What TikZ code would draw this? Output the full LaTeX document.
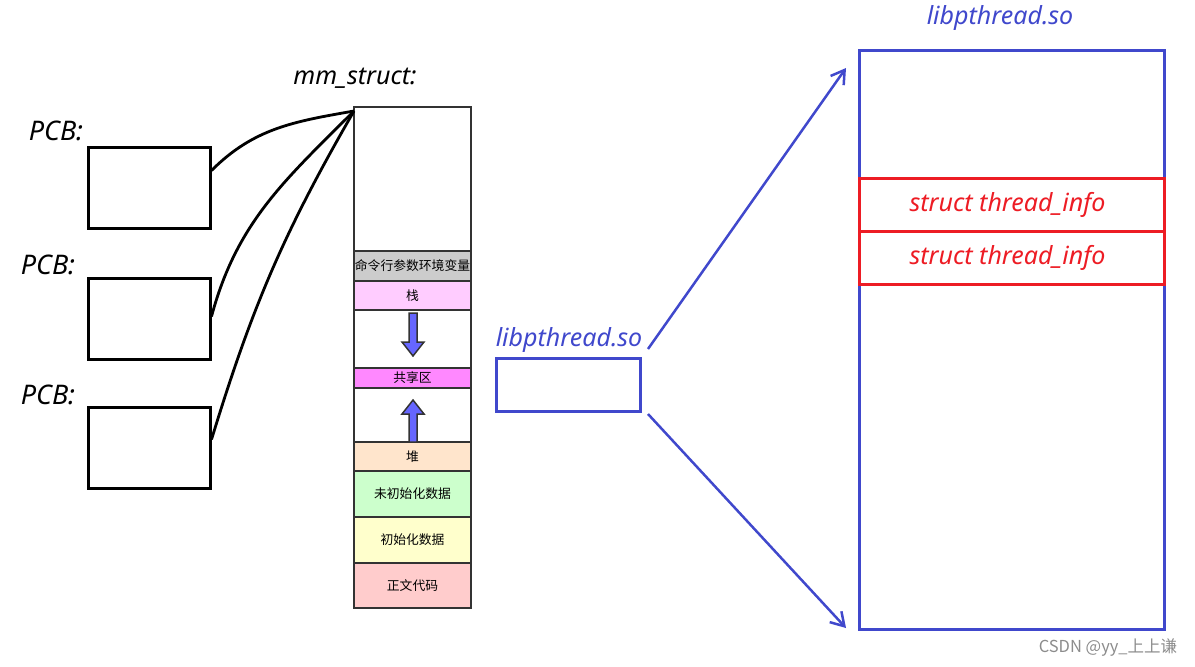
\documentclass[tikz,border=0pt]{standalone}
\usepackage{fontspec}
\setmainfont{Noto Sans}
\newfontfamily\cjk{Noto Sans CJK SC}
\usetikzlibrary{positioning,arrows.meta}

\definecolor{libblue}{RGB}{64,72,204}
\definecolor{infored}{RGB}{237,28,36}
\definecolor{segline}{RGB}{51,51,51}

\tikzset{
  pcbbox/.style={draw=black, line width=3pt, minimum width=122pt, minimum height=81pt, inner sep=0pt},
  seg/.style={draw=segline, line width=1.8pt, minimum width=117pt, inner sep=0pt, font=\cjk\fontsize{12.8}{14}\selectfont},
  label/.style={font=\fontsize{25}{28}\selectfont\itshape, inner sep=0pt},
  link/.style={black, line width=2.8pt},
  libarrow/.style={libblue, line width=2.5pt, -{Straight Barb[length=13pt,width=16pt,line width=2.5pt]}},
  flowarrow/.style={fill=blue!60, draw=segline, line width=1.5pt, line join=miter}
}

\begin{document}
\begin{tikzpicture}[x=1pt, y=-1pt]
\useasboundingbox (0,0) rectangle (1195,667);

%PCBs
\node[pcbbox] (pcb1) at (149,187.5) {};
\node[pcbbox] (pcb2) at (149,318.5) {};
\node[pcbbox] (pcb3) at (149,447.5) {};
\node[label, font=\fontsize{27}{30}\selectfont\itshape] (pcblab1) at (56,131) {PCB:};
\node[label, font=\fontsize{27}{30}\selectfont\itshape] (pcblab2) at (48,265) {PCB:};
\node[label, font=\fontsize{27}{30}\selectfont\itshape] (pcblab3) at (48,395) {PCB:};

%mm_struct column
\node[seg, minimum height=144pt] (free) at (412.5,179) {};
\node[seg, fill={rgb,255:red,204;green,204;blue,204}, minimum height=30pt] (env) at (412.5,266) {命令行参数环境变量};
\node[seg, fill={rgb,255:red,255;green,204;blue,255}, minimum height=29pt] (stack) at (412.5,295.5) {栈};
\node[seg, minimum height=58pt] (gap1) at (412.5,339) {};
\node[seg, fill={rgb,255:red,255;green,136;blue,255}, minimum height=20pt] (shared) at (412.5,378) {共享区};
\node[seg, minimum height=54pt] (gap2) at (412.5,415) {};
\node[seg, fill={rgb,255:red,255;green,229;blue,204}, minimum height=29pt] (heap) at (412.5,456.5) {堆};
\node[seg, fill={rgb,255:red,204;green,255;blue,204}, minimum height=46pt] (bss) at (412.5,494) {未初始化数据};
\node[seg, fill={rgb,255:red,255;green,255;blue,204}, minimum height=46pt] (data) at (412.5,540) {初始化数据};
\node[seg, fill={rgb,255:red,255;green,204;blue,204}, minimum height=45pt] (text) at (412.5,585.5) {正文代码};
\node[label] (mmlab) at (355,78) {mm\_struct:};

%Grow arrows
\draw[flowarrow] (409,313) -- (417,313) -- (417,342) -- (424,342) -- (413,356) -- (402,342) -- (409,342) -- cycle;
\draw[flowarrow] (409,442) -- (417,442) -- (417,414) -- (424,414) -- (413,400) -- (402,414) -- (409,414) -- cycle;

%Links PCB -> mm_struct
\coordinate (mm) at (354,111);
\draw[link] (pcb1.east) ++(0,-17) coordinate (p1) (p1) to[out=45, in=190] (mm);
\draw[link] (pcb2.east) ++(0,-2) coordinate (p2) (p2) to[out=75, in=225] (mm);
\draw[link] (pcb3.east) ++(0,-8) coordinate (p3) (p3) to[out=73, in=240] (mm);

%libpthread.so
\node[draw=libblue, line width=3pt, minimum width=144pt, minimum height=53pt, inner sep=0pt] (libbox) at (568,384.5) {};
\node[label, libblue] (liblab) at (569,340) {libpthread.so};
\node[draw=libblue, line width=3pt, minimum width=305pt, minimum height=579pt, inner sep=0pt] (shared lib) at (1011.5,339.5) {};
\node[label, libblue] (sharedlab) at (1000,18) {libpthread.so};
\node[draw=infored, line width=3pt, minimum width=305pt, minimum height=53pt, inner sep=0pt, label, infored] (info1) at (1011.5,204.5) {\hspace*{-8pt}struct thread\_info};
\node[draw=infored, line width=3pt, minimum width=305pt, minimum height=53pt, inner sep=0pt, label, infored] (info2) at (1011.5,257.5) {\hspace*{-8pt}struct thread\_info};

\coordinate (from1) at (648,349);
\coordinate (from2) at (648,414);
\coordinate (to1) at (846,68);
\coordinate (to2) at (846,628);
\draw[libarrow] (from1) -- (to1);
\draw[libarrow] (from2) -- (to2);

\node[font=\cjk\fontsize{16.5}{18}\selectfont, text=black!45] (mark) at (1108,648) {CSDN @yy\_上上谦};

\end{tikzpicture}
\end{document}
